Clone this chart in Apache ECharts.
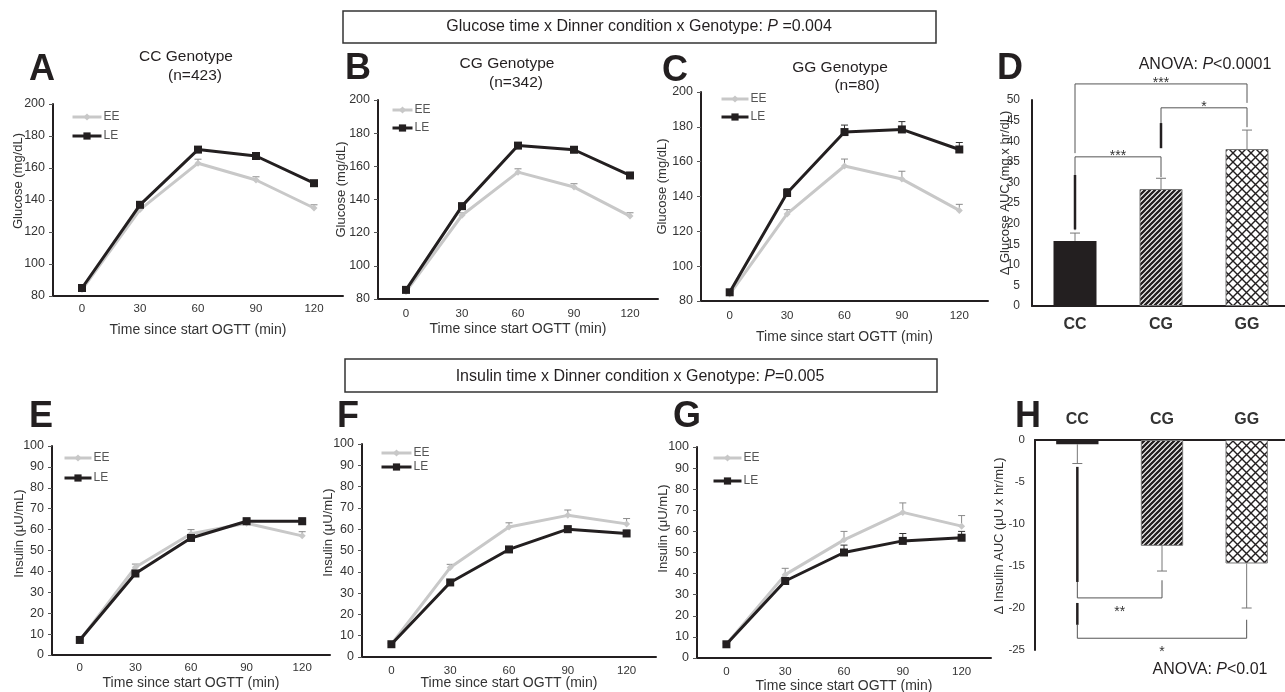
<!DOCTYPE html>
<html><head><meta charset="utf-8">
<script src="https://cdn.jsdelivr.net/npm/echarts@6/dist/echarts.min.js"></script>
<style>html,body{margin:0;padding:0;background:#fff}#c{width:1285px;height:692px}</style>
</head><body><div id="c"></div>
<script>
// ---------------- data ----------------
const timeCats = ['0', '30', '60', '90', '120'];
const genoCats = ['CC', 'CG', 'GG'];
const legendNames = ['EE', 'LE'];

// Glucose (mg/dL) by genotype
const glucCC_EE = [84, 134, 163, 152.5, 135];
const glucCC_LE = [85, 137, 171.5, 167.5, 150.5];
const glucCC_EE_err = [0.5, 1.5, 2.5, 2, 2];
const glucCC_LE_err = [0.5, 1, 1.5, 1.5, 1.5];
const glucCG_EE = [84.5, 130.5, 156.5, 147.5, 130];
const glucCG_LE = [85.5, 136, 172.5, 170, 154.5];
const glucCG_EE_err = [0.5, 1.5, 2, 2, 2];
const glucCG_LE_err = [0.5, 1, 1.5, 1.5, 1.5];
const glucGG_EE = [84, 130, 157.5, 150, 132];
const glucGG_LE = [85, 142, 177, 178.5, 167];
const glucGG_EE_err = [0.5, 2.5, 4, 4.5, 3.5];
const glucGG_LE_err = [0.5, 2.5, 4, 4.5, 4];
const glucAUC = [15.8, 28.4, 38.1];
const glucAUC_err = [1.9, 2.6, 4.6];

// Insulin (µU/mL) by genotype
const insCC_EE = [7, 42, 58, 63, 57];
const insCC_LE = [7.2, 39, 56, 64, 64];
const insCC_EE_err = [0.5, 1.5, 2, 1, 2];
const insCC_LE_err = [0.5, 1, 1.5, 1.5, 1.5];
const insCG_EE = [6, 42, 61, 66.5, 62.5];
const insCG_LE = [6, 35, 50.5, 60, 58];
const insCG_EE_err = [0.5, 1.5, 2, 2.5, 2.5];
const insCG_LE_err = [0.5, 1, 1, 1.5, 1.5];
const insGG_EE = [6.5, 39.5, 56, 69, 62.5];
const insGG_LE = [6.5, 36.5, 50, 55.5, 57];
const insGG_EE_err = [0.5, 3, 4, 4.5, 5];
const insGG_LE_err = [0.5, 1.5, 3.5, 3.5, 3];
const insAUC = [-0.5, -12.6, -14.7];
const insAUC_err = [2.3, 3, 5.3];

// significance brackets: [fromIdx, toIdx, barValue, leftEndValue, rightEndValue]
const glucBrackets = [[0, 2, 53.9, 37.1, 49.3], [1, 2, 48.1, 38.6, 43.4], [0, 1, 36.2, 18.4, 31.3]];
const glucStars = ['***', '*', '***'];
const glucHeavy = [[0, 31.8, 18.6], [1, 44.4, 38.3]];
const insBrackets = [[0, 1, -18.8, -16.9, -16.7], [0, 2, -23.6, -22, -21.4]];
const insStars = ['**', '*'];
const insHeavy = [[0, -3.2, -16.9], [0, -19.4, -22]];

// axis ranges
const glucRange = [80, 200, 20];
const insRange = [0, 100, 10];
const glucAUCRange = [0, 50, 5];
const insAUCRange = [-25, 0, 5];

// ---------------- helpers ----------------
const FONT = '"Liberation Sans", Arial, Helvetica, sans-serif';
const DARK = '#231f20', LIGHT = '#c8c8c8';
const grids = [], xAxes = [], yAxes = [], series = [], legends = [];

function errRender(dir, color, half) {
  return function (params, api) {
    const x = api.value(0), v = api.value(1), e = api.value(2);
    const p0 = api.coord([x, v]);
    const p1 = api.coord([x, v + dir * e]);
    const st = { stroke: color, lineWidth: 1 };
    return { type: 'group', children: [
      { type: 'line', shape: { x1: p0[0], y1: p0[1], x2: p1[0], y2: p1[1] }, style: st },
      { type: 'line', shape: { x1: p1[0] - half, y1: p1[1], x2: p1[0] + half, y2: p1[1] }, style: st }
    ] };
  };
}
function bracketRender(labels, off) {
  return function (params, api) {
    const x1 = api.value(0), x2 = api.value(1), y = api.value(2), yL = api.value(3), yR = api.value(4);
    const pL = api.coord([x1, y]), pR = api.coord([x2, y]);
    const pLb = api.coord([x1, yL]), pRb = api.coord([x2, yR]);
    return { type: 'group', children: [
      { type: 'polyline', shape: { points: [[pLb[0], pLb[1]], [pL[0], pL[1]], [pR[0], pR[1]], [pRb[0], pRb[1]]] },
        style: { stroke: '#555', lineWidth: 1, fill: null } },
      { type: 'text', style: { text: labels[params.dataIndex], x: (pL[0] + pR[0]) / 2, y: pL[1] + off,
        align: 'center', verticalAlign: 'middle', fontSize: 14, fontFamily: FONT, fill: '#333' } }
    ] };
  };
}
function heavyRender(params, api) {
  const x = api.value(0);
  const p1 = api.coord([x, api.value(1)]), p2 = api.coord([x, api.value(2)]);
  return { type: 'line', shape: { x1: p1[0], y1: p1[1], x2: p2[0], y2: p2[1] }, style: { stroke: DARK, lineWidth: 2.5 } };
}

function addLinePanel(o) {
  const i = grids.length;
  grids.push(Object.assign({ outerBoundsMode: 'none', containLabel: false }, o.grid));
  xAxes.push({ gridIndex: i, type: 'category', data: timeCats, boundaryGap: true,
    axisLine: { onZero: false, lineStyle: { color: DARK, width: 2 } }, axisTick: { show: false },
    axisLabel: { color: '#333', fontSize: 11.5, margin: o.xMargin, fontFamily: FONT },
    name: 'Time since start OGTT (min)', nameLocation: 'middle', nameGap: o.xNameGap, nameMoveOverlap: false,
    nameTextStyle: { color: '#333', fontSize: 14, fontFamily: FONT } });
  yAxes.push({ gridIndex: i, type: 'value', min: o.range[0], max: o.range[1], interval: o.range[2],
    axisLine: { show: true, lineStyle: { color: DARK, width: 2 } },
    axisTick: { show: true, length: 4, lineStyle: { color: '#555' } }, splitLine: { show: false },
    axisLabel: { color: '#333', fontSize: 12.5, margin: 8, fontFamily: FONT },
    name: o.yName, nameLocation: 'middle', nameGap: o.yNameGap, nameRotate: 90, nameMoveOverlap: false,
    nameTextStyle: { color: '#333', fontSize: 13, fontFamily: FONT, padding: [0, 0, 0, o.yShift] } });
  series.push({ type: 'custom', name: 'errEE', xAxisIndex: i, yAxisIndex: i, silent: true, z: 1,
    renderItem: errRender(1, '#8a8a8a', 3.5), data: o.ee.map((v, k) => [k, v, o.eeErr[k]]) });
  series.push({ type: 'custom', name: 'errLE', xAxisIndex: i, yAxisIndex: i, silent: true, z: 1,
    renderItem: errRender(1, '#333', 3.5), data: o.le.map((v, k) => [k, v, o.leErr[k]]) });
  series.push({ type: 'line', name: 'EE', xAxisIndex: i, yAxisIndex: i, data: o.ee, z: 2,
    symbol: 'diamond', symbolSize: 7, lineStyle: { color: LIGHT, width: 3 }, itemStyle: { color: LIGHT } });
  series.push({ type: 'line', name: 'LE', xAxisIndex: i, yAxisIndex: i, data: o.le, z: 3,
    symbol: 'rect', symbolSize: 8, lineStyle: { color: DARK, width: 3 }, itemStyle: { color: DARK } });
  legends.push({ left: o.lg[0], top: o.lg[1], itemWidth: o.lg[2], itemGap: o.lg[3], itemHeight: 9,
    orient: 'vertical', padding: 0, data: legendNames, selectedMode: false,
    lineStyle: { width: 3 },
    textStyle: { fontSize: 12, color: '#555', fontFamily: FONT, lineHeight: 14, padding: [0, 0, 0, -3] } });
}

function stripeCanvas() {
  const s = 5, c = document.createElement('canvas'); c.width = c.height = s;
  const g = c.getContext('2d'); g.fillStyle = '#fff'; g.fillRect(0, 0, s, s);
  g.strokeStyle = DARK; g.lineWidth = 2.3; g.beginPath();
  g.moveTo(0, s); g.lineTo(s, 0);
  g.moveTo(-s / 2, s / 2); g.lineTo(s / 2, -s / 2);
  g.moveTo(s / 2, s * 1.5); g.lineTo(s * 1.5, s / 2);
  g.stroke(); return c;
}
function crossCanvas() {
  const s = 9, c = document.createElement('canvas'); c.width = c.height = s;
  const g = c.getContext('2d'); g.fillStyle = '#fff'; g.fillRect(0, 0, s, s);
  g.strokeStyle = DARK; g.lineWidth = 1.4; g.beginPath();
  g.moveTo(0, 0); g.lineTo(s, s); g.moveTo(0, s); g.lineTo(s, 0);
  g.stroke(); return c;
}
const barFills = [DARK, { image: stripeCanvas(), repeat: 'repeat' }, { image: crossCanvas(), repeat: 'repeat' }];

function addBarPanel(o) {
  const i = grids.length;
  grids.push(Object.assign({ outerBoundsMode: 'none', containLabel: false }, o.grid));
  xAxes.push({ gridIndex: i, type: 'category', data: genoCats, boundaryGap: true, position: o.top ? 'top' : 'bottom',
    axisLine: { onZero: false, lineStyle: { color: DARK, width: 2 } }, axisTick: { show: false },
    axisLabel: { color: '#333', fontSize: 16, fontWeight: 'bold', margin: o.xMargin, fontFamily: FONT } });
  yAxes.push({ gridIndex: i, type: 'value', min: o.range[0], max: o.range[1], interval: o.range[2],
    axisLine: { show: true, lineStyle: { color: DARK, width: 2 } }, axisTick: { show: false }, splitLine: { show: false },
    axisLabel: { color: '#333', fontSize: o.labelSize, margin: o.yMargin, fontFamily: FONT },
    name: o.yName, nameLocation: 'middle', nameGap: o.yNameGap, nameRotate: 90, nameMoveOverlap: false,
    nameTextStyle: { color: '#333', fontSize: 13, fontFamily: FONT, padding: [0, 0, 0, o.yShift] } });
  series.push({ type: 'bar', name: 'auc' + i, xAxisIndex: i, yAxisIndex: i, barWidth: '50%', z: 2,
    data: o.vals.map((v, k) => ({ value: v, itemStyle: { color: barFills[k], borderColor: '#777', borderWidth: k === 0 ? 0 : 1 } })) });
  series.push({ type: 'custom', name: 'err' + i, xAxisIndex: i, yAxisIndex: i, silent: true, z: 3,
    renderItem: errRender(o.dir, '#777', 5), data: o.vals.map((v, k) => [k, v, o.errs[k]]) });
  series.push({ type: 'custom', name: 'br' + i, xAxisIndex: i, yAxisIndex: i, silent: true, z: 4,
    renderItem: bracketRender(o.stars, o.starOff), data: o.brackets });
  series.push({ type: 'custom', name: 'hv' + i, xAxisIndex: i, yAxisIndex: i, silent: true, z: 4,
    renderItem: heavyRender, data: o.heavy });
}

// ---------------- panels ----------------
addLinePanel({ grid: { left: 53, top: 104, width: 290, height: 192 }, range: glucRange,
  ee: glucCC_EE, le: glucCC_LE, eeErr: glucCC_EE_err, leErr: glucCC_LE_err,
  yName: 'Glucose (mg/dL)', yNameGap: 28.5, yShift: 38, xMargin: 7, xNameGap: 27, lg: [71, 110, 29, 5] });
addLinePanel({ grid: { left: 378, top: 100, width: 280, height: 199 }, range: glucRange,
  ee: glucCG_EE, le: glucCG_LE, eeErr: glucCG_EE_err, leErr: glucCG_LE_err,
  yName: 'Glucose (mg/dL)', yNameGap: 30.5, yShift: 20, xMargin: 9, xNameGap: 23, lg: [391, 103, 20, 4] });
addLinePanel({ grid: { left: 701, top: 92, width: 287, height: 209 }, range: glucRange,
  ee: glucGG_EE, le: glucGG_LE, eeErr: glucGG_EE_err, leErr: glucGG_LE_err,
  yName: 'Glucose (mg/dL)', yNameGap: 32.5, yShift: 20, xMargin: 9, xNameGap: 29, lg: [720, 92, 27, 4] });
addBarPanel({ grid: { left: 1032, top: 100, width: 258, height: 206 }, range: glucAUCRange,
  vals: glucAUC, errs: glucAUC_err, dir: 1, brackets: glucBrackets, stars: glucStars, heavy: glucHeavy, starOff: -1,
  yName: '\u0394 Glucose AUC (mg x hr/dL)', yNameGap: 20.5, yShift: 20, yMargin: 12, labelSize: 12, xMargin: 11, top: false });
addLinePanel({ grid: { left: 52, top: 446, width: 278, height: 209 }, range: insRange,
  ee: insCC_EE, le: insCC_LE, eeErr: insCC_EE_err, leErr: insCC_LE_err,
  yName: 'Insulin (\u03bcU/mL)', yNameGap: 26.5, yShift: 34, xMargin: 7, xNameGap: 21, lg: [63, 451, 27, 6] });
addLinePanel({ grid: { left: 362, top: 444, width: 294, height: 213 }, range: insRange,
  ee: insCG_EE, le: insCG_LE, eeErr: insCG_EE_err, leErr: insCG_LE_err,
  yName: 'Insulin (\u03bcU/mL)', yNameGap: 27.5, yShift: 36, xMargin: 8, xNameGap: 19, lg: [380, 446, 30, 0] });
addLinePanel({ grid: { left: 697, top: 447, width: 294, height: 211 }, range: insRange,
  ee: insGG_EE, le: insGG_LE, eeErr: insGG_EE_err, leErr: insGG_LE_err,
  yName: 'Insulin (\u03bcU/mL)', yNameGap: 27.5, yShift: 48, xMargin: 8, xNameGap: 21, lg: [712, 451, 28, 9] });
addBarPanel({ grid: { left: 1035, top: 440, width: 254, height: 210 }, range: insAUCRange,
  vals: insAUC, errs: insAUC_err, dir: -1, brackets: insBrackets, stars: insStars, heavy: insHeavy, starOff: 14,
  yName: '\u0394 Insulin AUC (\u03bcU x hr/mL)', yNameGap: 29.5, yShift: 18, yMargin: 10, labelSize: 11.5, xMargin: 12, top: true });

// ---------------- text decorations ----------------
function txt(x, y, text, size, extra) {
  return Object.assign({ type: 'text', x: x, y: y, silent: true,
    style: Object.assign({ text: text, fontSize: size, fontFamily: FONT, fill: '#231f20',
      align: 'center', verticalAlign: 'middle', textAlign: 'center', textVerticalAlign: 'middle' }, extra || {}) });
}
const ital = { i: { fontStyle: 'italic', fontSize: 16, fontFamily: FONT, fill: '#231f20' } };
const graphics = [
  { type: 'rect', silent: true, shape: { x: 343, y: 11, width: 593, height: 32 }, style: { fill: 'none', stroke: '#333', lineWidth: 1.5 } },
  txt(639, 27, 'Glucose time x Dinner condition x Genotype: {i|P} =0.004', 16, { rich: ital }),
  { type: 'rect', silent: true, shape: { x: 345, y: 359, width: 592, height: 33 }, style: { fill: 'none', stroke: '#333', lineWidth: 1.5 } },
  txt(640, 377, 'Insulin time x Dinner condition x Genotype: {i|P}=0.005', 16, { rich: ital }),
  txt(186, 57, 'CC Genotype', 15.5), txt(195, 76, '(n=423)', 15.5),
  txt(507, 64, 'CG Genotype', 15.5), txt(516, 83, '(n=342)', 15.5),
  txt(840, 68, 'GG Genotype', 15.5), txt(857, 86, '(n=80)', 15.5),
  txt(1205, 65, 'ANOVA: {i|P}<0.0001', 16, { rich: ital }),
  txt(1210, 670, 'ANOVA: {i|P}<0.01', 16, { rich: ital })
];
const letters = [['A', 29, 70.5], ['B', 345, 69], ['C', 662, 71], ['D', 997, 69],
                 ['E', 29, 417.5], ['F', 337, 417.5], ['G', 673, 417.5], ['H', 1015, 417.5]];
letters.forEach(l => graphics.push(txt(l[1], l[2], l[0], 36, { fontWeight: 'bold', align: 'left', textAlign: 'left' })));

const chart = echarts.init(document.getElementById('c'), null, { renderer: 'canvas' });
chart.setOption({
  animation: false,
  backgroundColor: '#fff',
  textStyle: { fontFamily: FONT },
  grid: grids, xAxis: xAxes, yAxis: yAxes, legend: legends, series: series, graphic: graphics
});
</script></body></html>
